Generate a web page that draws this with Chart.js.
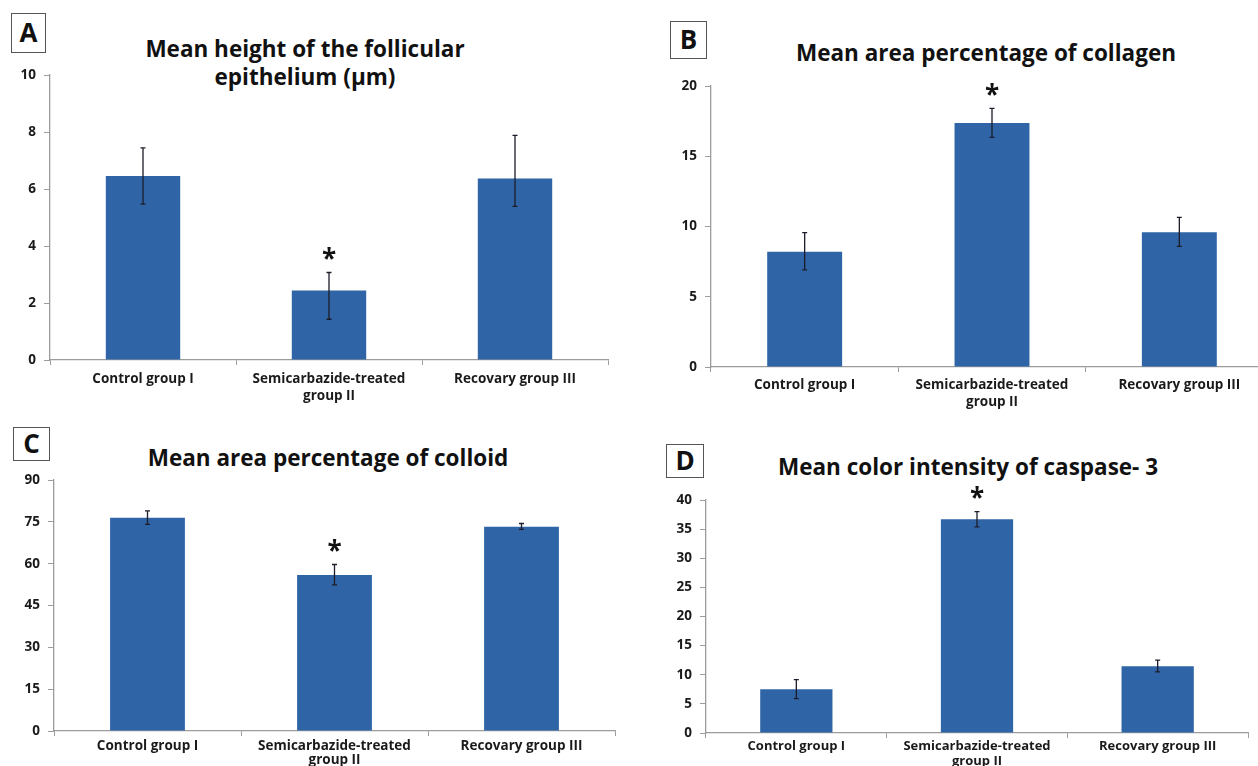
<!DOCTYPE html>
<html>
<head>
<meta charset="utf-8">
<script src="https://cdn.jsdelivr.net/npm/chart.js@4.4.1/dist/chart.umd.min.js"></script>
<style>
  html, body { margin: 0; padding: 0; width: 1258px; height: 766px; overflow: hidden; background: #fff; }
  canvas { position: absolute; }
  .tag { position: absolute; box-sizing: border-box; border: 1.5px solid #555; background: #fff;
         font: 700 26px "Open Sans", sans-serif; color: #111; text-align: center; }
  .title { position: absolute; transform: translateX(-50%); white-space: nowrap; text-align: center;
           font: 700 22.5px "Open Sans", sans-serif; color: #111; line-height: 28px; }
</style>
</head>
<body>
<div class="tag" style="left:11px;top:13px;width:35px;height:40px;line-height:37px">A</div>
<div class="tag" style="left:670px;top:21px;width:37px;height:38px;line-height:35px">B</div>
<div class="tag" style="left:13px;top:427px;width:37px;height:34px;line-height:31px">C</div>
<div class="tag" style="left:666px;top:444px;width:38px;height:34px;line-height:31px">D</div>

<div class="title" style="left:305px;top:35px">Mean height of the follicular<br>epithelium (µm)</div>
<div class="title" style="left:986px;top:39px">Mean area percentage of collagen</div>
<div class="title" style="left:328px;top:444px">Mean area percentage of colloid</div>
<div class="title" style="left:968px;top:453px">Mean color intensity of caspase- 3</div>

<canvas id="chartA" style="left:0;top:0;width:630px;height:415px"></canvas>
<canvas id="chartB" style="left:630px;top:0;width:660px;height:415px"></canvas>
<canvas id="chartC" style="left:0;top:415px;width:630px;height:351px"></canvas>
<canvas id="chartD" style="left:630px;top:415px;width:640px;height:351px"></canvas>

<script>
// groups on the x axis
var groups = ['Control group I', ['Semicarbazide-treated', 'group II'], 'Recovary group III'];
var significant = [false, true, false];

// A: follicular epithelium height (µm)
var heightMean = [6.46, 2.44, 6.37];
var heightLow  = [5.47, 1.43, 5.39];
var heightHigh = [7.44, 3.07, 7.88];

// B: collagen area %
var collagenMean = [8.21, 17.37, 9.59];
var collagenLow  = [6.91, 16.35, 8.59];
var collagenHigh = [9.56, 18.41, 10.65];

// C: colloid area %
var colloidMean = [76.5, 55.9, 73.2];
var colloidLow  = [74.1, 52.4, 72.3];
var colloidHigh = [78.9, 59.7, 74.4];

// D: caspase-3 colour intensity
var caspaseMean = [7.5, 36.7, 11.46];
var caspaseLow  = [5.9, 35.4, 10.5];
var caspaseHigh = [9.17, 38.0, 12.5];

var BAR = '#2f65a6';
var AXIS = '#9c9c9c';
var FONT = '"Open Sans", sans-serif';

// error bars + asterisk over significant groups
var errorBars = {
  id: 'errorBars',
  afterDatasetsDraw: function (chart) {
    var ds = chart.data.datasets[0];
    var y = chart.scales.y;
    var ctx = chart.ctx;
    ctx.save();
    ctx.strokeStyle = '#1c1c2a';
    ctx.lineWidth = 1.3;
    chart.getDatasetMeta(0).data.forEach(function (bar, i) {
      var top = y.getPixelForValue(ds.errHigh[i]);
      var bot = y.getPixelForValue(ds.errLow[i]);
      ctx.beginPath();
      ctx.moveTo(bar.x, top); ctx.lineTo(bar.x, bot);
      ctx.moveTo(bar.x - 2.5, top); ctx.lineTo(bar.x + 2.5, top);
      ctx.moveTo(bar.x - 2.5, bot); ctx.lineTo(bar.x + 2.5, bot);
      ctx.stroke();
      if (ds.stars[i]) {
        ctx.fillStyle = '#111';
        ctx.font = '700 26px ' + FONT;
        ctx.textAlign = 'center';
        ctx.textBaseline = 'middle';
        ctx.fillText('*', bar.x, top - 12);
      }
    });
    ctx.restore();
  }
};

var makeChart = function (id, means, low, high, yMax, step, lay) {
  return new Chart(document.getElementById(id), {
    type: 'bar',
    data: {
      labels: groups,
      datasets: [{
        data: means, errLow: low, errHigh: high, stars: significant,
        backgroundColor: BAR, borderWidth: 0,
        categoryPercentage: 1, barPercentage: 0.4,
      }]
    },
    options: {
      responsive: false, animation: false,
      layout: {padding: {top: lay.top, right: lay.right, left: 0, bottom: 0}},
      plugins: {legend: {display: false}, tooltip: {enabled: false}, title: {display: false}},
      scales: {
        x: {
          afterFit: function (s) { s.height = lay.xh; },
          grid: {drawOnChartArea: false, color: AXIS, tickLength: 5, offset: true},
          border: {color: AXIS, width: 1.3},
          ticks: {color: '#1a1a1a', padding: lay.xpad, maxRotation: 0, autoSkip: false,
                  font: {family: FONT, size: lay.fs, weight: '700', lineHeight: lay.lh}},
        },
        y: {
          min: 0, max: yMax,
          afterFit: function (s) { s.width = lay.yw; },
          grid: {drawOnChartArea: false, color: AXIS, tickLength: 6},
          border: {color: AXIS, width: 1.3},
          ticks: {stepSize: step, color: '#1a1a1a', padding: 8,
                  font: {family: FONT, size: 13.5, weight: '700'}},
        }
      }
    },
    plugins: [errorBars]
  });
};

document.getElementById('chartA').width = 630; document.getElementById('chartA').height = 415;
document.getElementById('chartB').width = 660; document.getElementById('chartB').height = 415;
document.getElementById('chartC').width = 630; document.getElementById('chartC').height = 351;
document.getElementById('chartD').width = 640; document.getElementById('chartD').height = 351;

makeChart('chartA', heightMean, heightLow, heightHigh, 10, 2,
  {top: 75, right: 22, yw: 50, xh: 55, xpad: 5, lh: 1.3, fs: 13.5});
makeChart('chartB', collagenMean, collagenLow, collagenHigh, 20, 5,
  {top: 86, right: 17, yw: 81, xh: 48, xpad: 4, lh: 1.3, fs: 13.5});
makeChart('chartC', colloidMean, colloidLow, colloidHigh, 90, 15,
  {top: 65, right: 15, yw: 54, xh: 35, xpad: 3, lh: 1.05, fs: 13.5});
makeChart('chartD', caspaseMean, caspaseLow, caspaseHigh, 40, 5,
  {top: 85, right: 22, yw: 76, xh: 33, xpad: 1.5, lh: 1.1, fs: 13});
</script>
</body>
</html>
